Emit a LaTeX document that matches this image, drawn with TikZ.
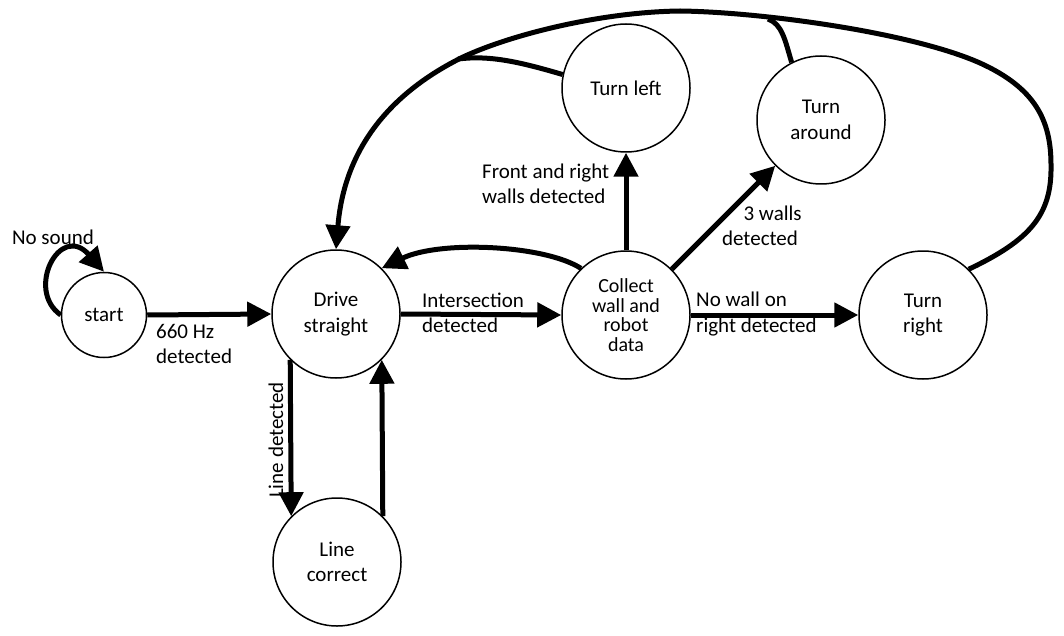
\documentclass[tikz,border=0pt]{standalone}
\usepackage{fontspec}
\setmainfont{Carlito}
\usetikzlibrary{arrows.meta}
\begin{document}
\begin{tikzpicture}[x=1pt,y=-1pt,
  state/.style={circle, draw, line width=1.5pt, minimum size=128pt, inner sep=0pt, align=center, font=\fontsize{21}{25.5}\selectfont},
  edge/.style={line width=5pt, -{Triangle[length=24pt,width=24pt]}},
  link/.style={line width=5pt},
  lab/.style={font=\fontsize{21}{25.5}\selectfont, align=left, inner sep=0pt}]
\useasboundingbox (0,0) rectangle (1064,636);
\fill[white] (0,0) rectangle (1064,636);
% states
\node[state, minimum size=85pt] (st) at (104,315) {start};
\node[state] (dr) at (336,314) {Drive\\straight};
\node[state] (lc) at (337,562) {Line\\correct};
\node[state, font=\fontsize{20}{19.5}\selectfont] (cw) at (626,315) {Collect\\wall and\\robot\\data};
\node[state] (tl) at (626,88) {Turn left};
\node[state] (ta) at (821,120) {Turn\\around};
\node[state] (tr) at (923,315) {Turn\\right};
% junctions
\coordinate (j1) at (458,59);
\coordinate (j2) at (768,19);
% edges
\draw[edge] (st.west) .. controls (25,290) and (60,222) .. (st.north);
\draw[edge] (st.east) -- (dr.west);
\draw[edge] (dr.east) -- (cw.west);
\draw[edge] (cw.134) .. controls (545,245) and (440,240) .. (dr.45);
\draw[edge] (cw.north) -- (tl.south);
\draw[edge] (cw.45) -- (ta.225);
\draw[edge] (cw.east) -- (tr.west);
\draw[edge] (dr.225) -- (lc.135);
\draw[edge] (lc.45) -- (dr.-45);
\draw[edge] (tr.45) .. controls (1030,240) and (1052,215) .. (1051,165)
  .. controls (1051,120) and (1035,88) .. (980,63)
  .. controls (910,32) and (760,12) .. (680,11)
  .. controls (600,12) and (510,35) .. (463,57)
  .. controls (400,88) and (345,140) .. (dr.north);
\draw[link] (tl.168) .. controls (520,62) and (490,55) .. (j1);
\draw[link] (ta.117) .. controls (785,40) and (782,24) .. (j2);
% labels
\node[lab, anchor=center] (l0) at (53,237) {No sound};
\node[lab, anchor=north west] (l1) at (156,324) {660 Hz\\detected};
\node[lab, anchor=west] (l2) at (422,313) {Intersection\\detected};
\node[lab, anchor=west] (l3) at (482,184) {Front and right\\walls detected};
\node[lab, align=center, anchor=center] (l4) at (760,226) {\hspace*{1.2em}3 walls\\detected};
\node[lab, anchor=west] (l5) at (696,314) {No wall on\\right detected};
\node[lab, rotate=90, anchor=center] (l6) at (276,440) {Line detected};
\end{tikzpicture}
\end{document}
